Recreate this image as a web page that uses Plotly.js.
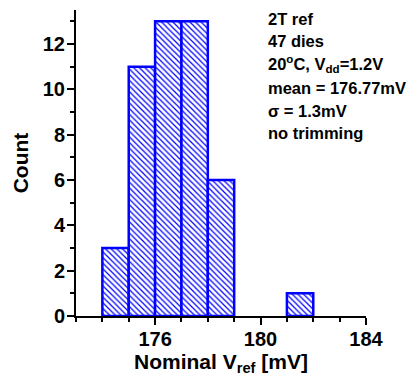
<!DOCTYPE html>
<html>
<head>
<meta charset="utf-8">
<script src="https://cdn.plot.ly/plotly-3.0.1.min.js"></script>
<style>html,body{margin:0;padding:0;background:#fff;}#chart{width:409px;height:381px;}</style>
</head>
<body>
<div id="chart"></div>
<script>
// Histogram data: bin starts (mV), bin width and counts
const binStarts = [174, 175, 176, 177, 178, 181];
const binWidth = 1;
const counts = [3, 11, 13, 13, 6, 1];

const xTickVals = [176, 180, 184];
const xTickText = ['176', '180', '184'];
const yTickVals = [0, 2, 4, 6, 8, 10, 12];
const yTickText = ['0', '2', '4', '6', '8', '10', '12'];

const infoLines = [
  '2T ref',
  '47 dies',
  '20<sup>o</sup>C, V<sub>dd</sub>=1.2V',
  'mean = 176.77mV',
  'σ = 1.3mV',
  'no trimming'
];

const font = '"Liberation Sans", Arial, sans-serif';

const trace = {
  type: 'bar',
  x: binStarts,
  y: counts,
  width: binStarts.map(() => binWidth),
  offset: 0,
  marker: {
    color: '#ffffff',
    line: {color: '#0000ff', width: 2.5},
    pattern: {shape: '\\', fgcolor: '#0000ff', bgcolor: '#ffffff', size: 4, solidity: 0.3, fillmode: 'replace'}
  },
  hoverinfo: 'x+y',
  showlegend: false
};

const topPx = 10, botPx = 316;
const plotH = botPx - topPx;
const lineCenters = [19, 41, 64, 88, 111, 133];
const annotations = infoLines.map((t, i) => ({
  text: t,
  xref: 'paper', yref: 'paper',
  x: (266 - 76) / 290, xanchor: 'left',
  y: (botPx - lineCenters[i]) / plotH, yanchor: 'middle',
  showarrow: false,
  font: {family: font, size: 16.5, color: '#000', weight: 'bold'}
}));

const layout = {
  width: 409, height: 381,
  margin: {l: 76, r: 43, t: 10, b: 65},
  paper_bgcolor: '#fff', plot_bgcolor: '#fff',
  bargap: 0,
  xaxis: {
    range: [173, 184],
    tickvals: xTickVals, ticktext: xTickText,
    ticks: 'outside', ticklen: 7, tickwidth: 2, tickcolor: '#000',
    ticklabelstandoff: -3,
    minor: {dtick: 1, tick0: 173, ticks: 'outside', ticklen: 4, tickwidth: 2, tickcolor: '#000'},
    showline: true, linecolor: '#000', linewidth: 2,
    showgrid: false, zeroline: false,
    tickfont: {family: font, size: 20, color: '#000', weight: 'bold'},
    title: {text: 'Nominal V<sub>ref</sub> [mV]', font: {family: font, size: 21, color: '#000', weight: 'bold'}, standoff: 2}
  },
  yaxis: {
    range: [0, 13.5],
    tickvals: yTickVals, ticktext: yTickText,
    ticks: 'outside', ticklen: 7, tickwidth: 2, tickcolor: '#000',
    ticklabelstandoff: -2,
    minor: {dtick: 1, tick0: 1, ticks: 'outside', ticklen: 4, tickwidth: 2, tickcolor: '#000'},
    showline: true, linecolor: '#000', linewidth: 2,
    showgrid: false, zeroline: false,
    tickfont: {family: font, size: 20, color: '#000', weight: 'bold'},
    title: {text: 'Count', font: {family: font, size: 21, color: '#000', weight: 'bold'}, standoff: 8}
  },
  annotations: annotations
};

Plotly.newPlot('chart', [trace], layout, {displayModeBar: false, staticPlot: true});
</script>
</body>
</html>
